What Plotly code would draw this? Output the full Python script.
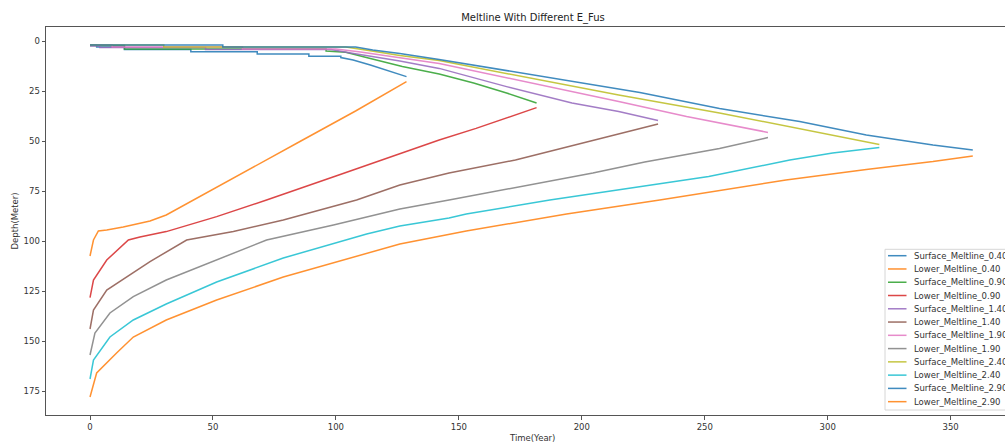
import plotly.graph_objects as go

# ---------------- data ----------------
series_names = [
    "Surface_Meltline_0.40", "Lower_Meltline_0.40",
    "Surface_Meltline_0.90", "Lower_Meltline_0.90",
    "Surface_Meltline_1.40", "Lower_Meltline_1.40",
    "Surface_Meltline_1.90", "Lower_Meltline_1.90",
    "Surface_Meltline_2.40", "Lower_Meltline_2.40",
    "Surface_Meltline_2.90", "Lower_Meltline_2.90",
]

surf_040_t = [0, 2.7, 2.7, 14, 14, 41, 41, 68, 68, 89, 89, 102, 102, 107, 114, 120.6, 128.7]
surf_040_d = [2, 2, 3, 3, 4.3, 4.3, 5.4, 5.4, 6.5, 6.5, 7.6, 7.6, 8.3, 9.5, 12, 14.5, 17.8]
low_040_t = [0, 1.4, 3.4, 6.8, 13.5, 24.4, 31, 42, 63, 85, 108, 128.7]
low_040_d = [107.5, 99.5, 95, 94.5, 93, 90, 87, 79.5, 65.5, 50.5, 35, 20.3]

surf_090_t = [0, 14, 14, 96, 96, 104, 114, 127, 142, 156, 169.4, 181.6]
surf_090_d = [2.3, 2.3, 4, 4, 5, 5.6, 8.7, 12.8, 16.5, 21, 26, 31]
low_090_t = [0, 1.4, 6.8, 15.6, 20.3, 31, 51.5, 71.8, 100, 126, 142, 157, 181.6]
low_090_d = [128.3, 119.5, 109.5, 99.5, 98, 95.3, 87.8, 79.5, 67.5, 56.5, 49.5, 43.7, 33.3]

surf_140_t = [0, 4, 4, 47, 47, 98, 106, 126, 142, 169.4, 196, 215, 231]
surf_140_d = [2.5, 2.5, 3.3, 3.3, 4.3, 4.3, 6, 10, 13.7, 22.8, 31, 35.3, 39.8]
low_140_t = [0, 1.4, 6.8, 15, 24.4, 39.3, 58.3, 78.6, 108.4, 126, 146, 173, 202, 223.6, 231]
low_140_d = [144, 134.5, 124.5, 117.8, 110.3, 99.5, 95.3, 89.5, 79.5, 72, 66, 59.5, 50.5, 43.5, 41.5]

surf_190_t = [0, 9, 9, 62, 62, 100, 110, 126, 142, 215, 242.6, 275.7]
surf_190_d = [2, 2, 3, 3, 4, 4, 5.5, 8.5, 11.2, 30.3, 37.8, 45.7]
low_190_t = [0, 2, 8.1, 17.6, 31, 51.5, 71.8, 99, 126, 146, 204.5, 225.6, 256, 275.7]
low_190_d = [157, 146, 136, 127.8, 119.5, 109.5, 99.5, 92, 84, 79.5, 66, 60.5, 53.7, 48.3]

surf_240_t = [0, 30, 30, 104, 112, 126, 142, 215, 256, 288.6, 321]
surf_240_d = [2, 2, 3, 3, 4.5, 7.2, 9.8, 27, 36, 44, 51.7]
low_240_t = [0, 1.4, 8.1, 17.6, 31, 51.5, 78.6, 112.5, 126, 146, 153, 187, 251.6, 284.6, 302, 321]
low_240_d = [169, 159.5, 148, 139.5, 131.5, 120.5, 108.5, 96.5, 92.5, 88.5, 86.5, 79.5, 67.8, 59.5, 56, 53.3]

surf_290_t = [0, 54, 54, 108, 115, 126, 142, 223.6, 256, 288.6, 315.7, 342.8, 359]
surf_290_d = [2, 2, 3, 3, 4.5, 6.2, 9.2, 25.8, 33.7, 40.3, 47, 52, 54.5]
low_290_t = [0, 2.7, 10.8, 17.6, 31, 51.5, 78.6, 112.5, 126, 153, 193.8, 231.7, 283, 315.7, 342.8, 359]
low_290_d = [178, 166, 156, 148, 139.5, 129.5, 118, 106, 101.5, 95, 86.5, 79.5, 69.5, 64.2, 60.3, 57.5]

x_ticks = [0, 50, 100, 150, 200, 250, 300, 350]
y_ticks = [0, 25, 50, 75, 100, 125, 150, 175]

series_t = [surf_040_t, low_040_t, surf_090_t, low_090_t, surf_140_t, low_140_t,
            surf_190_t, low_190_t, surf_240_t, low_240_t, surf_290_t, low_290_t]
series_d = [surf_040_d, low_040_d, surf_090_d, low_090_d, surf_140_d, low_140_d,
            surf_190_d, low_190_d, surf_240_d, low_240_d, surf_290_d, low_290_d]

colors = ["#1f77b4", "#ff7f0e", "#2ca02c", "#d62728", "#9467bd", "#8c564b",
          "#e377c2", "#7f7f7f", "#bcbd22", "#17becf", "#1f77b4", "#ff7f0e"]

# ---------------- layout geometry (pixels) ----------------
W, H = 1005, 443
ML, MR, MT, MB = 46, 0, 27, 28
PW = W - ML - MR
PH = H - MT - MB


def px(xp):
    return (xp - ML) / PW


def py(yp):
    return (H - MB - yp) / PH


fig = go.Figure()
for name, t, d, c in zip(series_names, series_t, series_d, colors):
    fig.add_trace(go.Scatter(x=t, y=d, mode="lines", name=name, opacity=0.85,
                             line=dict(color=c, width=1.5), showlegend=False))

axis_common = dict(
    showgrid=False, zeroline=False, showline=True, linecolor="#555", linewidth=1,
    ticks="outside", ticklen=3.5, tickwidth=1, tickcolor="#555",
    tickfont=dict(family="DejaVu Sans", size=8.5, color="#333"),
)

fig.update_layout(
    width=W, height=H,
    margin=dict(l=ML, r=MR, t=MT, b=MB),
    paper_bgcolor="white", plot_bgcolor="white",
    title=dict(text="Meltline With Different E_Fus", xref="container", yref="container",
               x=533 / W, y=1 - 17 / H, xanchor="center", yanchor="middle",
               font=dict(family="DejaVu Sans", size=10, color="#222")),
    xaxis=dict(range=[-17.9, 372.1], tickvals=x_ticks, mirror=True, **axis_common),
    yaxis=dict(range=[187, -7], tickvals=y_ticks, mirror=False, **axis_common),
    showlegend=False,
)

annotations = [
    dict(text="Time(Year)", x=px(532), y=py(437.5), xref="paper", yref="paper",
         showarrow=False, xanchor="center", yanchor="middle",
         font=dict(family="DejaVu Sans", size=8.5, color="#333")),
    dict(text="Depth(Meter)", x=px(14.5), y=py(221), xref="paper", yref="paper",
         showarrow=False, xanchor="center", yanchor="middle", textangle=-90,
         font=dict(family="DejaVu Sans", size=8.5, color="#333")),
]

shapes = [dict(type="rect", xref="paper", yref="paper", x0=px(885), x1=px(1060),
               y0=py(410), y1=py(249.3), line=dict(color="#d6d6d6", width=1),
               fillcolor="rgba(255,255,255,0.85)", layer="above")]

row0, row_step = 255.7, 13.27
for i, (name, c) in enumerate(zip(series_names, colors)):
    yc = row0 + i * row_step
    shapes.append(dict(type="line", xref="paper", yref="paper",
                       x0=px(888), x1=px(906.5), y0=py(yc), y1=py(yc), opacity=0.85,
                       line=dict(color=c, width=1.5), layer="above"))
    annotations.append(dict(text=name, x=px(912), y=py(yc), xref="paper", yref="paper",
                            showarrow=False, xanchor="left", yanchor="middle",
                            font=dict(family="DejaVu Sans", size=8.5, color="#333")))

fig.update_layout(annotations=annotations, shapes=shapes)
fig.write_html("out.html")
